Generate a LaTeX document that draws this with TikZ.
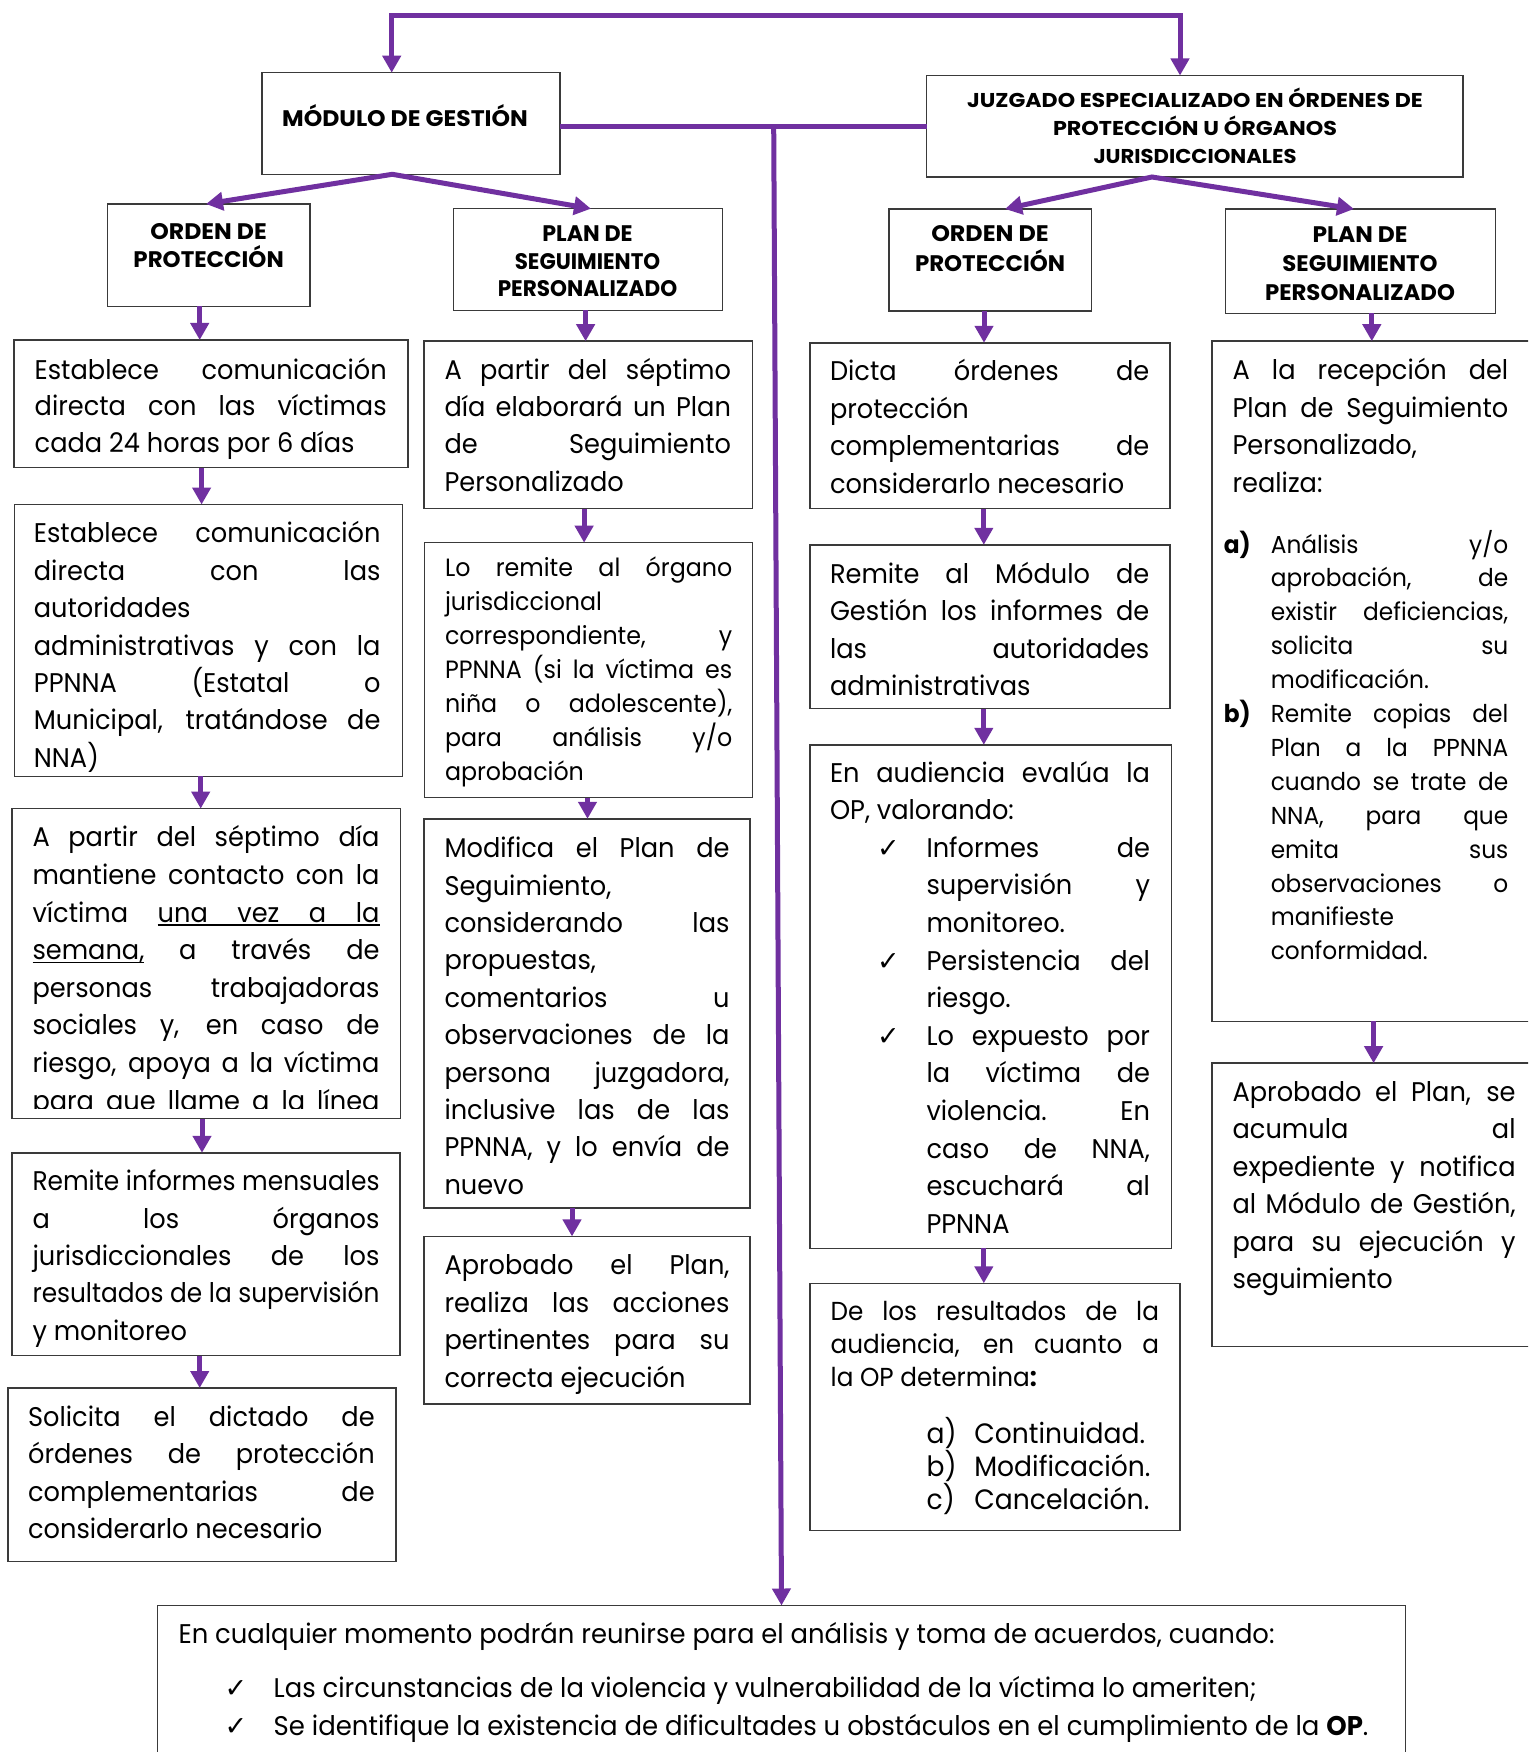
\documentclass[tikz,border=0pt]{standalone}
\usepackage{fontspec}
\usepackage{graphicx}
\setmainfont{Poppins}[FakeStretch=0.95]
\newfontfamily\dejavu{DejaVu Sans}
\usetikzlibrary{arrows.meta}
\definecolor{purp}{HTML}{7030A0}
\definecolor{bxgray}{HTML}{3A3A3A}

\newsavebox\lnbox
\newlength\fw
\newlength\indw
\newlength\lblw
\newlength\gapu
\newcommand\fitS[2]{\setlength\fw{#1}\sbox\lnbox{#2}\ifdim\wd\lnbox>\fw\resizebox{\fw}{\height}{\usebox\lnbox}\else\makebox[\fw][s]{#2}\fi}
\newcommand\fitL[2]{\setlength\fw{#1}\sbox\lnbox{#2}\ifdim\wd\lnbox>\fw\resizebox{\fw}{\height}{\usebox\lnbox}\else\makebox[\fw][l]{\usebox\lnbox}\fi}
\newcommand\fitW[2]{\setlength\fw{#1}\resizebox{\fw}{\height}{#2}}
\newcommand\lnJ[1]{\fitS{\linewidth}{#1}\par}
\newcommand\lnE[1]{\fitL{\linewidth}{#1}\par}
\newcommand\itJ[2]{\hbox to\linewidth{\hskip\lblw\rlap{#1}\hskip\dimexpr\indw-\lblw\relax\fitS{\dimexpr\linewidth-\indw\relax}{#2}\hss}}
\newcommand\itE[2]{\hbox to\linewidth{\hskip\lblw\rlap{#1}\hskip\dimexpr\indw-\lblw\relax\fitL{\dimexpr\linewidth-\indw\relax}{#2}\hss}}
\newcommand\bitem[2]{\hbox{\hskip\lblw\rlap{\chk}\hskip\dimexpr\indw-\lblw\relax\fitW{#1}{#2}}}
\newcommand\chk{{\dejavu\fontsize{27}{27}\selectfont ✓}}
\newcommand\ulx[1]{\setbox4\hbox{#1}\rlap{\vrule width\wd4 height -2pt depth 3.8pt}\box4}
\newcommand\ULone{\setbox0\hbox{víctima}\setbox2\hbox{unavezala}\gapu=\dimexpr(\linewidth-\wd0-\wd2)/4\relax
 \hbox to\linewidth{víctima\hskip\gapu\ulx{una\hskip\gapu\relax vez\hskip\gapu\relax a\hskip\gapu\relax la}\hss}}
\newcommand\ULtwo{\setbox0\hbox{semana,}\setbox2\hbox{atravésde}\gapu=\dimexpr(\linewidth-\wd0-\wd2)/3\relax
 \hbox to\linewidth{\ulx{semana,}\hskip\gapu\relax a\hskip\gapu\relax través\hskip\gapu\relax de\hss}}

\newcommand\bA[1]{\fontsize{27}{#1}\selectfont}
\newcommand\bB[1]{\fontsize{24.5}{#1}\selectfont}
\newcommand\bC[1]{\fontsize{25}{#1}\selectfont}
\newcommand\bD[1]{\fontsize{28}{#1}\selectfont}
\newcommand\bE[1]{\fontsize{26}{#1}\selectfont}

\newcommand\mkbox[5]{\node[bxs, minimum width={#4-#2}, minimum height={#5-#3}] (#1) at (#2,#3) {};}
\newcommand\mktx[5]{\node[txs] (#1) at (#2,#3) {\parbox[t]{#4pt}{\parindent0pt\parskip0pt #5}};}
\newcommand\mkhd[6]{\node[hds] (#1) at (#2,#3) {\parbox[t]{560pt}{\centering\bfseries\fontsize{#4}{#5}\selectfont #6}};}
\newcommand\dnarrow[3]{\coordinate (tmpx) at (#3,0); \draw[conn,tipE] (#1.south -| tmpx) -- (#2.north -| tmpx);}

\tikzset{
 conn/.style={draw=purp, line width=5pt},
 tipE/.style={-{Triangle[width=18pt,length=17pt]}},
 tipB/.style={{Triangle[width=18pt,length=17pt]}-{Triangle[width=18pt,length=17pt]}},
 bxs/.style={draw=bxgray, line width=1.5pt, fill=white, inner sep=0pt, outer sep=0pt, anchor=north west, rectangle},
 txs/.style={anchor=base west, inner sep=0pt, outer sep=0pt},
 hds/.style={anchor=base, inner sep=0pt, outer sep=0pt}
}

\begin{document}
\begin{tikzpicture}[x=1pt,y=-1pt]
\useasboundingbox (0,0) rectangle (1528,1752);
\fill[white] (0,0) rectangle (1528,1752);
\clip (0,0) rectangle (1528,1752);

% ---------- boxes ----------
\mkbox{M}{262}{72.7}{560}{174.3}
\mkbox{Jz}{926.7}{75.5}{1463}{177}
\mkbox{O1}{107.6}{204}{310.2}{306.3}
\mkbox{PH1}{453.7}{208.7}{722.3}{310.3}
\mkbox{O2}{888.9}{209}{1091.4}{311}
\mkbox{PH2}{1225.7}{209}{1495.3}{313.3}
\mkbox{L1}{14}{340}{408}{467.7}
\mkbox{L2}{14.5}{504.5}{402.3}{776.4}
\mkbox{L3}{12.1}{808.6}{400.4}{1118.7}
\mkbox{L4}{12.1}{1152.8}{400}{1355.7}
\mkbox{L5}{8.2}{1388}{396}{1561.5}
\mkbox{P1}{424.1}{341.2}{752.3}{508.6}
\mkbox{P2}{424.7}{542.7}{752.7}{797.7}
\mkbox{P3}{424.1}{818.8}{750}{1208}
\mkbox{P4}{424.1}{1236.4}{750}{1404}
\mkbox{J1}{810}{342.8}{1170}{508.6}
\mkbox{J2}{810}{544.8}{1170}{708.6}
\mkbox{J3}{810}{744.8}{1171.4}{1248.4}
\mkbox{J4}{810}{1283.3}{1180}{1530.5}
\mkbox{K1}{1212}{341.2}{1600}{1021.3}
\mkbox{K2}{1212}{1063.2}{1600}{1346.6}
\mkbox{B}{157.5}{1605.5}{1405.5}{1800}

% ---------- connectors ----------
\coordinate (tl) at (391.7,16);
\coordinate (tr) at (1180,16);
\draw[conn,tipB] (M.north -| tl) -- (tl) -- (tr) -- (Jz.north -| tr);
\coordinate (ml) at (0,126.7);
\draw[conn] (M.east |- ml) -- (Jz.west |- ml);
\coordinate (mid) at (773.7,126.7);
\draw[conn,tipE] (mid) -- (B.north);

\coordinate (ma) at (392.3,0); \coordinate (o1a) at (206,0); \coordinate (p1a) at (591,0);
\draw[conn,tipB] (O1.north -| o1a) -- (M.south -| ma) -- (PH1.north -| p1a);
\coordinate (ja) at (1152,0); \coordinate (o2a) at (1005,0); \coordinate (p2a) at (1354,0);
\draw[conn,tipB] (O2.north -| o2a) -- (Jz.south -| ja) -- (PH2.north -| p2a);

\dnarrow{O1}{L1}{199.7}
\dnarrow{L1}{L2}{201.6}
\dnarrow{L2}{L3}{200.7}
\dnarrow{L3}{L4}{202}
\dnarrow{L4}{L5}{199.7}
\dnarrow{PH1}{P1}{585.6}
\dnarrow{P1}{P2}{584.1}
\dnarrow{P2}{P3}{587.5}
\dnarrow{P3}{P4}{572}
\dnarrow{O2}{J1}{984}
\dnarrow{J1}{J2}{983.8}
\dnarrow{J2}{J3}{983.8}
\dnarrow{J3}{J4}{983.8}
\dnarrow{PH2}{K1}{1371.8}
\dnarrow{K1}{K2}{1373.6}

% ---------- headers ----------
\mkhd{Mt}{405}{126.7}{22.5}{28}{\fitW{245.7pt}{MÓDULO DE GESTIÓN}}
\mkhd{Jzt}{1195}{107.3}{20}{28}{\fitW{455.7pt}{JUZGADO ESPECIALIZADO EN ÓRDENES DE}\\\fitW{284pt}{PROTECCIÓN U ÓRGANOS}\\\fitW{203pt}{JURISDICCIONALES}}
\mkhd{O1t}{208.6}{239.3}{22.5}{28.4}{\fitW{116.3pt}{ORDEN DE}\\\fitW{150.3pt}{PROTECCIÓN}}
\mkhd{PH1t}{587.5}{242}{22.5}{27.5}{\fitW{90.2pt}{PLAN DE}\\\fitW{145.4pt}{SEGUIMIENTO}\\\fitW{179.4pt}{PERSONALIZADO}}
\mkhd{O2t}{990}{242}{22.5}{29.5}{\fitW{117.5pt}{ORDEN DE}\\\fitW{150pt}{PROTECCIÓN}}
\mkhd{PH2t}{1360}{242.3}{22.5}{29.3}{\fitW{95pt}{PLAN DE}\\\fitW{155.2pt}{SEGUIMIENTO}\\\fitW{190pt}{PERSONALIZADO}}

% ---------- left column ----------
\mktx{L1t}{34.7}{379}{352}{\bA{36.5}
\lnJ{Establece comunicación}
\lnJ{directa con las víctimas}
\lnE{cada 24 horas por 6 días}}

\mktx{L2t}{33.9}{542.8}{346.6}{\bA{37.4}
\lnJ{Establece comunicación}
\lnJ{directa con las}
\lnE{autoridades}
\lnJ{administrativas y con la}
\lnJ{PPNNA (Estatal o}
\lnJ{Municipal, tratándose de}
\lnE{NNA)}}

\begin{scope}
\clip (12,808) rectangle (401,1108);
\mktx{L3t}{32.5}{846.8}{347}{\bA{37.6}
\lnJ{A partir del séptimo día}
\lnJ{mantiene contacto con la}
\ULone
\ULtwo
\lnJ{personas trabajadoras}
\lnJ{sociales y, en caso de}
\lnJ{riesgo, apoya a la víctima}
\lnJ{para que llame a la línea}}
\end{scope}

\mktx{L4t}{32.5}{1190.7}{347}{\bA{37.4}
\lnJ{Remite informes mensuales}
\lnJ{a los órganos}
\lnJ{jurisdiccionales de los}
\lnJ{resultados de la supervisión}
\lnE{y monitoreo}}

\mktx{L5t}{28.1}{1426.5}{346.6}{\bA{37.4}
\lnJ{Solicita el dictado de}
\lnJ{órdenes de protección}
\lnJ{complementarias de}
\lnE{considerarlo necesario}}

% ---------- second column ----------
\mktx{P1t}{444.5}{379}{286.5}{\bA{37.4}
\lnJ{A partir del séptimo}
\lnJ{día elaborará un Plan}
\lnJ{de Seguimiento}
\lnE{Personalizado}}

\mktx{P2t}{445}{576.7}{287.3}{\bC{33.9}
\lnJ{Lo remite al órgano}
\lnE{jurisdiccional}
\lnJ{correspondiente, y}
\lnJ{PPNNA (si la víctima es}
\lnJ{niña o adolescente),}
\lnJ{para análisis y/o}
\lnE{aprobación}}

\mktx{P3t}{444.5}{857.6}{285}{\bA{37.4}
\lnJ{Modifica el Plan de}
\lnE{Seguimiento,}
\lnJ{considerando las}
\lnE{propuestas,}
\lnJ{comentarios u}
\lnJ{observaciones de la}
\lnJ{persona juzgadora,}
\lnJ{inclusive las de las}
\lnJ{PPNNA, y lo envía de}
\lnE{nuevo}}

\mktx{P4t}{444.5}{1274.8}{285}{\bA{37.5}
\lnJ{Aprobado el Plan,}
\lnJ{realiza las acciones}
\lnJ{pertinentes para su}
\lnE{correcta ejecución}}

% ---------- third column ----------
\mktx{J1t}{830}{380.5}{319.3}{\bA{37.6}
\lnJ{Dicta órdenes de}
\lnE{protección}
\lnJ{complementarias de}
\lnE{considerarlo necesario}}

\mktx{J2t}{830}{583}{319.3}{\bA{37.6}
\lnJ{Remite al Módulo de}
\lnJ{Gestión los informes de}
\lnJ{las autoridades}
\lnE{administrativas}}

\mktx{J3t}{830}{782}{320}{\bA{37.6}\setlength\indw{96.5pt}\setlength\lblw{47pt}
\lnJ{En audiencia evalúa la}
\lnE{OP, valorando:}
\itJ{\chk}{Informes de}
\itJ{}{supervisión y}
\itE{}{monitoreo.}
\itJ{\chk}{Persistencia del}
\itE{}{riesgo.}
\itJ{\chk}{Lo expuesto por}
\itJ{}{la víctima de}
\itJ{}{violencia. En}
\itJ{}{caso de NNA,}
\itJ{}{escuchará al}
\itE{}{PPNNA}}

\mktx{J4t}{830.7}{1320}{328.3}{\bE{33}
\lnJ{De los resultados de la}
\lnJ{audiencia, en cuanto a}
\lnE{la OP determina\textbf{:}}}
\mktx{J4l}{830.7}{1443.5}{328.3}{\bD{33}\setlength\indw{143.6pt}\setlength\lblw{96pt}
\itE{a)}{Continuidad.}
\itE{b)}{Modificación.}
\itE{c)}{Cancelación.}}

% ---------- fourth column ----------
\mktx{K1t}{1232.6}{379.5}{275.7}{\bA{37.6}
\lnJ{A la recepción del}
\lnJ{Plan de Seguimiento}
\lnE{Personalizado,}
\lnE{realiza:}}
\mktx{K1l}{1223.8}{553}{284.5}{\bB{33.9}\setlength\indw{47pt}\setlength\lblw{0pt}
\itJ{\textbf{a)}}{Análisis y/o}
\itJ{}{aprobación, de}
\itJ{}{existir deficiencias,}
\itJ{}{solicita su}
\itE{}{modificación.}
\itJ{\textbf{b)}}{Remite copias del}
\itJ{}{Plan a la PPNNA}
\itJ{}{cuando se trate de}
\itJ{}{NNA, para que}
\itJ{}{emita sus}
\itJ{}{observaciones o}
\itE{}{manifieste}
\itE{}{conformidad.}}

\mktx{K2t}{1232.6}{1101}{283}{\bA{37.5}
\lnJ{Aprobado el Plan, se}
\lnJ{acumula al}
\lnJ{expediente y notifica}
\lnJ{al Módulo de Gestión,}
\lnJ{para su ejecución y}
\lnE{seguimiento}}

% ---------- bottom box ----------
\node[txs] (Bt) at (178.5,1643.5) {\bA{37.5}\fitW{1096pt}{En cualquier momento podrán reunirse para el análisis y toma de acuerdos, cuando:}};
\mktx{Bl}{178.5}{1697}{1200}{\bA{38}\setlength\indw{95.2pt}\setlength\lblw{46pt}
\bitem{983pt}{Las circunstancias de la violencia y vulnerabilidad de la víctima lo ameriten;}
\bitem{1094.7pt}{Se identifique la existencia de dificultades u obstáculos en el cumplimiento de la \textbf{OP}.}}
\end{tikzpicture}
\end{document}
